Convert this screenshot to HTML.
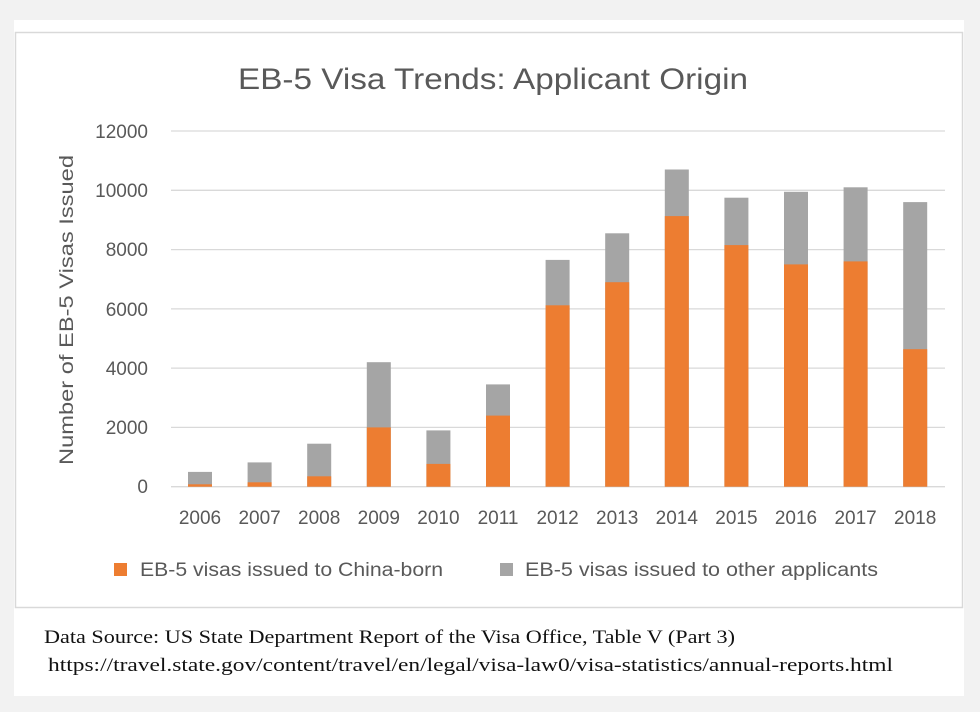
<!DOCTYPE html>
<html><head><meta charset="utf-8"><style>
html,body{margin:0;padding:0;background:#f2f2f2;width:980px;height:712px;overflow:hidden}
svg{display:block}
</style></head><body>
<svg width="980" height="712" xmlns="http://www.w3.org/2000/svg">
<rect x="0" y="0" width="980" height="712" fill="#f2f2f2"/>
<rect x="14" y="20" width="950" height="676" fill="#fff"/>
<rect x="15.5" y="32.5" width="947" height="575" fill="#fff" stroke="#d9d9d9" stroke-width="1.5"/>
<text x="238" y="89" font-family="Liberation Sans, sans-serif" font-size="30" fill="#595959" textLength="510" lengthAdjust="spacingAndGlyphs">EB-5 Visa Trends: Applicant Origin</text>
<g stroke="#d9d9d9" stroke-width="1.3">
<line x1="171" x2="945" y1="131" y2="131"/>
<line x1="171" x2="945" y1="190.3" y2="190.3"/>
<line x1="171" x2="945" y1="249.6" y2="249.6"/>
<line x1="171" x2="945" y1="308.9" y2="308.9"/>
<line x1="171" x2="945" y1="368.1" y2="368.1"/>
<line x1="171" x2="945" y1="427.4" y2="427.4"/>
<line x1="171" x2="945" y1="486.7" y2="486.7"/>
</g>
<g font-family="Liberation Sans, sans-serif" font-size="19" fill="#595959" text-anchor="end">
<text x="148" y="138">12000</text>
<text x="148" y="197">10000</text>
<text x="148" y="256">8000</text>
<text x="148" y="316">6000</text>
<text x="148" y="375">4000</text>
<text x="148" y="434">2000</text>
<text x="148" y="493">0</text>
</g>
<text transform="translate(73,465) rotate(-90)" font-family="Liberation Sans, sans-serif" font-size="19" fill="#595959" textLength="310" lengthAdjust="spacingAndGlyphs">Number  of EB-5 Visas Issued</text>
<g fill="#a5a5a5">
<rect x="188" y="471.9" width="24" height="14.8"/>
<rect x="247.6" y="462.4" width="24" height="24.3"/>
<rect x="307.2" y="443.7" width="24" height="43"/>
<rect x="366.8" y="362.2" width="24" height="124.5"/>
<rect x="426.4" y="430.4" width="24" height="56.3"/>
<rect x="486" y="384.4" width="24" height="102.3"/>
<rect x="545.6" y="259.9" width="24" height="226.8"/>
<rect x="605.2" y="233.3" width="24" height="253.4"/>
<rect x="664.8" y="169.5" width="24" height="317.2"/>
<rect x="724.4" y="197.7" width="24" height="289"/>
<rect x="784" y="191.8" width="24" height="294.9"/>
<rect x="843.6" y="187.3" width="24" height="299.4"/>
<rect x="903.2" y="202.1" width="24" height="284.6"/>
</g>
<g fill="#ed7d31">
<rect x="188" y="484.3" width="24" height="2.4"/>
<rect x="247.6" y="482.3" width="24" height="4.4"/>
<rect x="307.2" y="476.3" width="24" height="10.4"/>
<rect x="366.8" y="427.4" width="24" height="59.3"/>
<rect x="426.4" y="463.9" width="24" height="22.8"/>
<rect x="486" y="415.6" width="24" height="71.1"/>
<rect x="545.6" y="305.3" width="24" height="181.4"/>
<rect x="605.2" y="282.2" width="24" height="204.5"/>
<rect x="664.8" y="216.1" width="24" height="270.6"/>
<rect x="724.4" y="245.1" width="24" height="241.6"/>
<rect x="784" y="264.4" width="24" height="222.3"/>
<rect x="843.6" y="261.4" width="24" height="225.3"/>
<rect x="903.2" y="349.2" width="24" height="137.5"/>
</g>
<g font-family="Liberation Sans, sans-serif" font-size="19" fill="#595959" text-anchor="middle">
<text x="200" y="524">2006</text>
<text x="259.6" y="524">2007</text>
<text x="319.2" y="524">2008</text>
<text x="378.8" y="524">2009</text>
<text x="438.4" y="524">2010</text>
<text x="498" y="524">2011</text>
<text x="557.6" y="524">2012</text>
<text x="617.2" y="524">2013</text>
<text x="676.8" y="524">2014</text>
<text x="736.4" y="524">2015</text>
<text x="796" y="524">2016</text>
<text x="855.6" y="524">2017</text>
<text x="915.2" y="524">2018</text>
</g>
<rect x="114" y="563" width="13" height="13" fill="#ed7d31"/>
<text x="140" y="576" font-family="Liberation Sans, sans-serif" font-size="19" fill="#595959" textLength="303" lengthAdjust="spacingAndGlyphs">EB-5 visas issued to China-born</text>
<rect x="500" y="563" width="13" height="13" fill="#a5a5a5"/>
<text x="525" y="576" font-family="Liberation Sans, sans-serif" font-size="19" fill="#595959" textLength="353" lengthAdjust="spacingAndGlyphs">EB-5 visas issued to other applicants</text>
<text x="44" y="643" font-family="Liberation Serif, serif" font-size="19" fill="#111" textLength="691" lengthAdjust="spacingAndGlyphs">Data Source: US State Department Report of the Visa Office, Table V (Part 3)</text>
<text x="48" y="671" font-family="Liberation Serif, serif" font-size="19" fill="#111" textLength="845" lengthAdjust="spacingAndGlyphs">https://travel.state.gov/content/travel/en/legal/visa-law0/visa-statistics/annual-reports.html</text>
</svg>
</body></html>
